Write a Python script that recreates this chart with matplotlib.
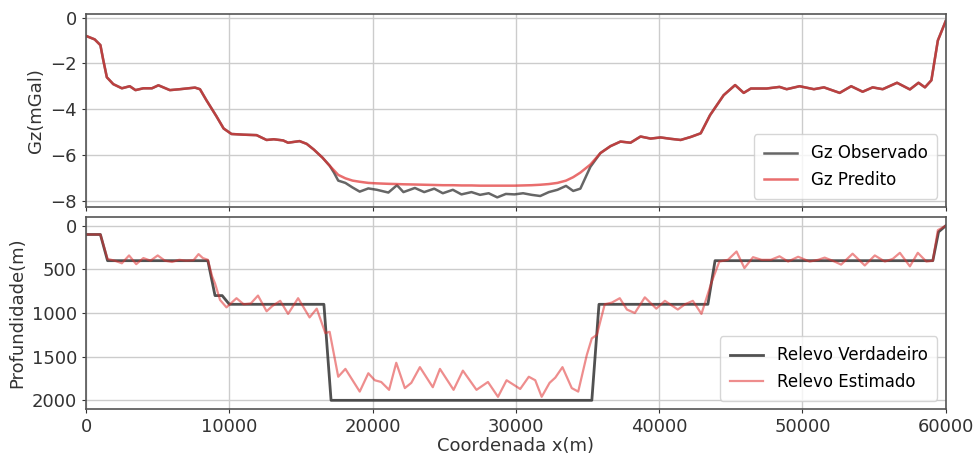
import numpy as np
import matplotlib
matplotlib.use('Agg')
import matplotlib.pyplot as plt

# Gz profile (observed vs predicted)
gz_x = [0, 600, 1000, 1200, 1450, 1900, 2500, 3050, 3450, 4000,
        4600, 5050, 5850, 6550, 7600, 7950, 8400, 9100, 9600, 10150,
        11000, 11900, 12600, 13100, 13750, 14100, 14900, 15400, 15900, 16500,
        17000, 17300, 17600, 18100, 18600, 19100, 19700, 20300, 21100, 21700,
        22150, 22950, 23600, 24300, 24900, 25600, 26200, 26900, 27500, 28100,
        28700, 29300, 29900, 30500, 31100, 31700, 32300, 32900, 33500, 34000,
        34500, 35200, 35900, 36600, 37300, 38000, 38700, 39400, 40100, 40800,
        41500, 42200, 42900, 43550, 44500, 45300, 45900, 46400, 47500, 48400,
        48900, 49800, 50800, 51500, 52600, 53400, 54200, 54900, 55600, 56600,
        57500, 58100, 58550, 59000, 59450, 60000]

gz_obs = [-0.80, -0.95, -1.20, -1.85, -2.60, -2.90, -3.08, -2.99, -3.16, -3.08,
          -3.08, -2.95, -3.16, -3.12, -3.05, -3.12, -3.60, -4.30, -4.83, -5.07,
          -5.10, -5.12, -5.33, -5.30, -5.35, -5.45, -5.38, -5.50, -5.75, -6.10,
          -6.45, -6.75, -7.10, -7.20, -7.40, -7.58, -7.44, -7.50, -7.62, -7.30,
          -7.60, -7.42, -7.60, -7.45, -7.65, -7.50, -7.70, -7.60, -7.72, -7.65,
          -7.83, -7.68, -7.70, -7.65, -7.72, -7.77, -7.60, -7.50, -7.33, -7.55,
          -7.45, -6.50, -5.90, -5.60, -5.40, -5.45, -5.18, -5.27, -5.22, -5.28,
          -5.33, -5.20, -5.04, -4.25, -3.38, -2.94, -3.28, -3.09, -3.09, -3.02,
          -3.12, -2.99, -3.12, -3.04, -3.28, -2.99, -3.23, -3.04, -3.12, -2.84,
          -3.13, -2.84, -3.04, -2.73, -1.00, -0.15]

gz_pred = [-0.80, -0.95, -1.20, -1.85, -2.60, -2.90, -3.08, -2.99, -3.16, -3.08,
           -3.08, -2.95, -3.16, -3.12, -3.05, -3.12, -3.60, -4.30, -4.83, -5.07,
           -5.10, -5.12, -5.33, -5.30, -5.35, -5.45, -5.38, -5.50, -5.75, -6.10,
           -6.45, -6.65, -6.85, -7.00, -7.10, -7.15, -7.20, -7.22, -7.24, -7.25,
           -7.26, -7.27, -7.28, -7.29, -7.30, -7.30, -7.31, -7.31, -7.32, -7.32,
           -7.32, -7.32, -7.32, -7.31, -7.30, -7.28, -7.25, -7.20, -7.10, -6.95,
           -6.75, -6.40, -5.90, -5.60, -5.40, -5.45, -5.18, -5.27, -5.22, -5.28,
           -5.33, -5.20, -5.04, -4.25, -3.38, -2.94, -3.28, -3.09, -3.09, -3.02,
           -3.12, -2.99, -3.12, -3.04, -3.28, -2.99, -3.23, -3.04, -3.12, -2.84,
           -3.13, -2.84, -3.04, -2.73, -1.00, -0.15]

# true relief (step model)
true_x = [0, 1000, 1500, 8500, 9000, 9500, 10000, 16600, 17100,
          35300, 35800, 43400, 43900, 59100, 59500, 60000]
true_depth = [100, 100, 400, 400, 800, 800, 900, 900, 2000,
              2000, 900, 900, 400, 400, 70, 0]

# estimated relief
est_x = [0, 1000, 1500, 2000, 2500, 3000, 3500, 4000, 4500, 5000,
         5500, 6000, 6500, 7000, 7500, 7850, 8150, 8500, 8800, 9000,
         9350, 9800, 10500, 11000, 11500, 12000, 12600, 13000, 13550, 14100,
         14800, 15600, 16100, 16700, 17000, 17600, 18100, 19100, 19700, 20150,
         20600, 21150, 21650, 22250, 22700, 23300, 24200, 24700, 25650, 26300,
         27250, 28050, 28750, 29350, 30300, 30900, 31350, 31800, 32350, 32750,
         33250, 33900, 34350, 34950, 35300, 35650, 36200, 36700, 37250, 37750,
         38300, 39000, 39800, 40400, 41300, 41800, 42350, 42950, 43650, 44200,
         44800, 45400, 45950, 46550, 47150, 47800, 48400, 49000, 49700, 50500,
         51100, 51550, 52100, 52700, 53500, 54350, 55050, 55750, 56300, 56800,
         57500, 58050, 58650, 59100, 59450, 60000]
est_depth = [100, 100, 380, 400, 430, 340, 440, 370, 400, 340,
             400, 415, 390, 400, 395, 325, 370, 390, 580, 660,
             850, 935, 830, 900, 890, 800, 980, 920, 860, 1010,
             830, 1050, 950, 1230, 1215, 1730, 1640, 1900, 1690, 1770,
             1790, 1880, 1570, 1860, 1800, 1620, 1850, 1640, 1880, 1660,
             1880, 1790, 1960, 1770, 1870, 1730, 1770, 1960, 1800, 1740,
             1620, 1860, 1900, 1480, 1290, 1250, 900, 880, 830, 960,
             1000, 820, 950, 860, 960, 900, 860, 1010, 650, 410,
             390, 295, 485, 360, 390, 390, 350, 410, 355, 410,
             390, 365, 400, 445, 320, 455, 340, 410, 380, 310,
             465, 310, 410, 400, 50, 0]

fig = plt.figure(figsize=(9.78, 4.55), dpi=100)
ax1 = fig.add_axes([0.088, 0.545, 0.879, 0.424])
ax2 = fig.add_axes([0.088, 0.101, 0.879, 0.422], sharex=ax1)

ax1.plot(gz_x, gz_obs, color='#333333', lw=1.8, alpha=0.75, label='Gz Observado')
ax1.plot(gz_x, gz_pred, color='#e03030', lw=1.8, alpha=0.7, label='Gz Predito')
ax1.set_ylim(-8.25, 0.15)
ax1.set_yticks([0, -2, -4, -6, -8])
ax1.set_ylabel('Gz(mGal)', fontsize=13, color='#333333')
ax1.legend(loc='lower right', fontsize=12, framealpha=0.8, borderpad=0.6)
plt.setp(ax1.get_xticklabels(), visible=False)

ax2.plot(true_x, true_depth, color='#333333', lw=2, alpha=0.85, label='Relevo Verdadeiro')
ax2.plot(est_x, est_depth, color='#e03030', lw=1.6, alpha=0.55, label='Relevo Estimado')
ax2.set_ylim(2100, -100)
ax2.set_yticks([0, 500, 1000, 1500, 2000])
ax2.set_ylabel('Profundidade(m)', fontsize=13, color='#333333')
ax2.set_xlabel('Coordenada x(m)', fontsize=13, color='#333333', labelpad=1)
ax2.legend(loc='lower right', fontsize=12, framealpha=0.8, borderpad=0.6)
ax2.set_xlim(0, 60000)
ax2.set_xticks(np.arange(0, 60001, 10000))

for ax in (ax1, ax2):
    ax.grid(True, color='#cccccc', lw=1)
    ax.tick_params(labelsize=13, colors='#333333', length=3)
    for s in ax.spines.values():
        s.set_color('#555555')
        s.set_linewidth(1.2)

plt.savefig('out.png', dpi=100)
